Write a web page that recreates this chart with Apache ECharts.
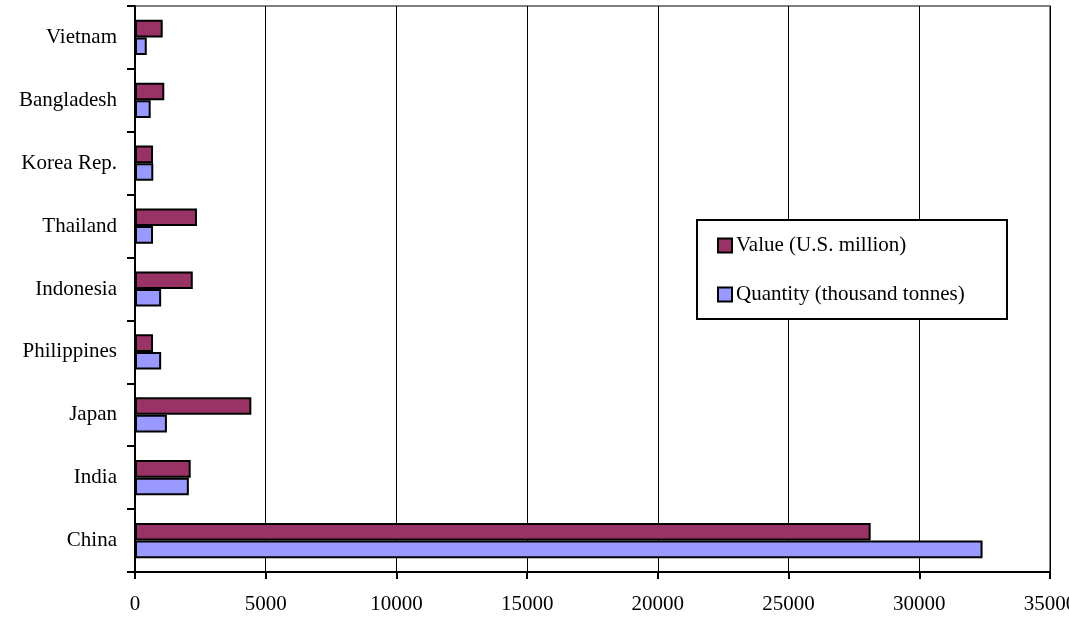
<!DOCTYPE html>
<html>
<head>
<meta charset="utf-8">
<script src="https://cdn.jsdelivr.net/npm/echarts@6/dist/echarts.min.js"></script>
<style>
  html, body { margin: 0; padding: 0; background: #fff; }
  #chart { width: 1069px; height: 617px; }
</style>
</head>
<body>
<div id="chart"></div>
<script>
// Countries, listed bottom to top along the category axis
const countries = ['China', 'India', 'Japan', 'Philippines', 'Indonesia', 'Thailand', 'Korea Rep.', 'Bangladesh', 'Vietnam'];
// Value in U.S. $ million
const valueMillion = [28140, 2130, 4450, 690, 2210, 2370, 690, 1120, 1060];
// Quantity in thousand tonnes
const quantityTonnes = [32420, 2060, 1220, 1000, 1000, 690, 700, 600, 450];
const seriesNames = ['Value (U.S. million)', 'Quantity (thousand tonnes)'];

const serif = '"Liberation Serif", "Times New Roman", serif';
const chart = echarts.init(document.getElementById('chart'), null, { renderer: 'canvas' });

chart.setOption({
  animation: false,
  backgroundColor: '#ffffff',
  grid: {
    left: 135, right: 19, top: 6, bottom: 45,
    outerBoundsMode: 'none', containLabel: false,
    show: true, borderColor: '#808080', borderWidth: 2
  },
  xAxis: {
    type: 'value',
    min: 0, max: 35000, interval: 5000,
    axisLine: { show: true, lineStyle: { color: '#000', width: 2 } },
    axisTick: { show: true, length: 7, lineStyle: { color: '#000', width: 2 } },
    axisLabel: {
      color: '#000', fontFamily: serif, fontSize: 21, margin: 22,
      formatter: v => String(v)
    },
    splitLine: { show: true, lineStyle: { color: '#000', width: 1 } }
  },
  yAxis: {
    type: 'category',
    data: countries,
    axisLine: { show: true, lineStyle: { color: '#000', width: 2 } },
    axisTick: { show: true, length: 8, lineStyle: { color: '#000', width: 2 } },
    axisLabel: { color: '#000', fontFamily: serif, fontSize: 21, margin: 18 },
    splitLine: { show: false }
  },
  graphic: [{
    type: 'rect', z: 3,
    shape: { x: 697, y: 220, width: 310, height: 99 },
    style: { fill: '#fff', stroke: '#000', lineWidth: 2 }
  }],
  legend: {
    orient: 'vertical', left: 717, top: 235, z: 5,
    padding: 0, itemGap: 28, itemWidth: 14, itemHeight: 14,
    icon: 'rect',
    textStyle: { color: '#000', fontFamily: serif, fontSize: 21, padding: [0, 0, 0, -1] },
    data: seriesNames
  },
  series: [
    {
      name: seriesNames[0], type: 'bar', data: valueMillion,
      barGap: '0%', barCategoryGap: '44%',
      itemStyle: { color: '#993366', borderColor: '#000', borderWidth: 2 }
    },
    {
      name: seriesNames[1], type: 'bar', data: quantityTonnes,
      barGap: '0%', barCategoryGap: '44%',
      itemStyle: { color: '#9999FF', borderColor: '#000', borderWidth: 2 }
    }
  ]
});
</script>
</body>
</html>
